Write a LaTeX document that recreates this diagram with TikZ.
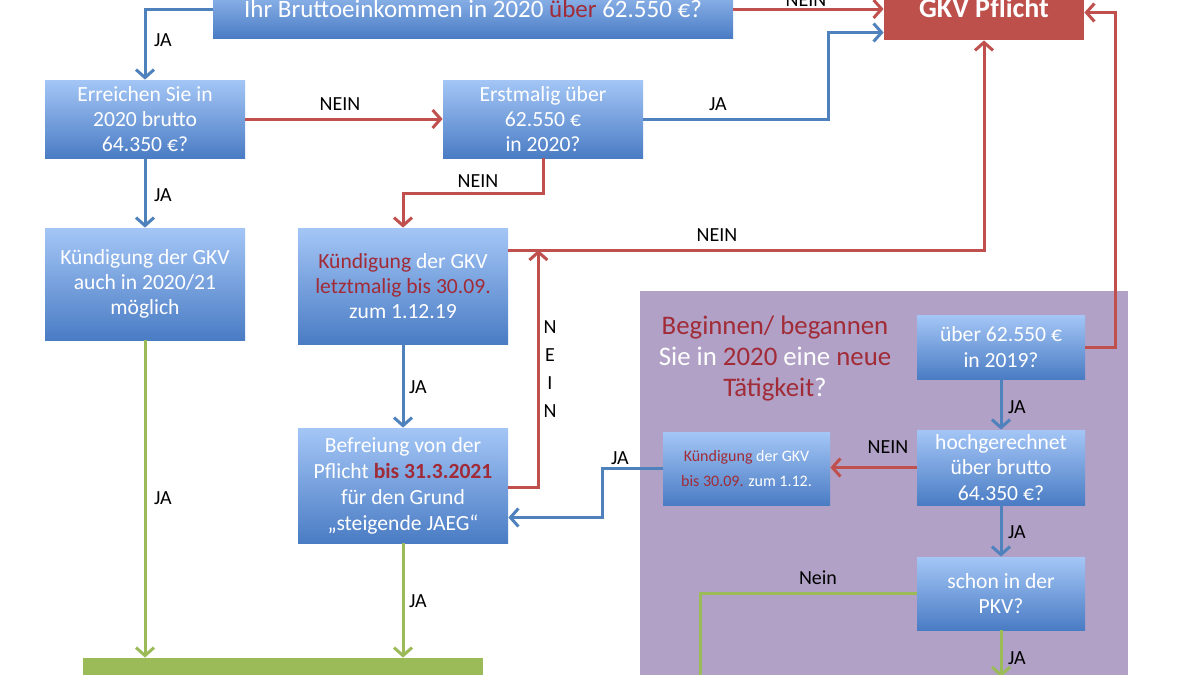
\documentclass[tikz,border=0pt]{standalone}
\usepackage{fontspec}
\setmainfont{Carlito}
\usetikzlibrary{arrows.meta,calc}
\definecolor{bl1}{HTML}{A4C6F6}
\definecolor{bl2}{HTML}{4A7CC4}
\definecolor{barrow}{HTML}{4F81BD}
\definecolor{rarrow}{HTML}{C0504D}
\definecolor{garrow}{HTML}{9BBB59}
\definecolor{gkvred}{HTML}{BE504C}
\definecolor{dred}{HTML}{A12B36}
\definecolor{purp}{HTML}{B1A1C6}
\definecolor{gbox}{HTML}{9BBB59}
\begin{document}
\begin{tikzpicture}[x=0.5pt,y=-0.5pt,
  qbox/.style={shape=rectangle, inner sep=0pt, top color=bl1, bottom color=bl2, text=white, align=center, font=\fontsize{10.8}{12.6}\selectfont},
  tipstyle/.style={-{Straight Barb[length=4pt,width=9pt]}},
  barr/.style={line width=1.5pt, draw=barrow, tipstyle},
  rarr/.style={line width=1.5pt, draw=rarrow, tipstyle},
  garr/.style={line width=1.5pt, draw=garrow, tipstyle},
  gline/.style={line width=1.5pt, draw=garrow},
  lab/.style={inner sep=0pt, text=black, font=\fontsize{10}{12}\selectfont},
]
\useasboundingbox (0,0) rectangle (1200,675);
\fill[white] (0,0) rectangle (1200,675);
\fill[purp] (640,291) rectangle (1128,700);

% nodes
\node[qbox, minimum width=260pt, minimum height=29pt, font=\fontsize{12.5}{15}\selectfont] (top) at (473,9) {Ihr Bruttoeinkommen in 2020 \textcolor{dred}{über} 62.550 €?};
\node[shape=rectangle, inner sep=0pt, fill=gkvred, text=white, minimum width=100pt, minimum height=32.5pt, font=\bfseries\fontsize{14}{16}\selectfont] (gkv) at (984,7.5) {GKV Pflicht};
\node[qbox, minimum width=100pt, minimum height=39pt] (err) at (145,119) {Erreichen Sie in\\2020 brutto\\64.350 €?};
\node[qbox, minimum width=100pt, minimum height=39pt] (erst) at (543,119) {Erstmalig über\\62.550 €\\in 2020?};
\node[qbox, minimum width=100pt, minimum height=56pt] (kl) at (145,284) {Kündigung der GKV\\auch in 2020/21\\möglich};
\node[qbox, minimum width=105pt, minimum height=58pt] (km) at (403,286) {\textcolor{dred}{Kündigung} der GKV\\\textcolor{dred}{letztmalig bis 30.09.}\\zum 1.12.19};
\node[qbox, minimum width=105pt, minimum height=57.5pt, font=\fontsize{10.8}{13}\selectfont] (bef) at (403,485.5) {Befreiung von der\\Pflicht \textcolor{dred}{\bfseries bis 31.3.2021}\\für den Grund\\„steigende JAEG“};
\node[shape=rectangle, inner sep=0pt, fill=gbox, minimum width=200pt, minimum height=21pt] (gr) at (283,679) {};
\node[inner sep=0pt, align=center, text=white, font=\fontsize{13.4}{15.5}\selectfont] (beg) at (775,358) {\textcolor{dred}{Beginnen/ begannen}\\Sie in \textcolor{dred}{2020} eine \textcolor{dred}{neue}\\\textcolor{dred}{Tätigkeit}?};
\node[qbox, minimum width=84pt, minimum height=32pt] (u19) at (1001,347) {über 62.550 €\\in 2019?};
\node[qbox, minimum width=84pt, minimum height=37.5pt] (hoch) at (1001,467.5) {hochgerechnet\\über brutto\\64.350 €?};
\node[qbox, minimum width=83.5pt, minimum height=36.5pt, font=\fontsize{8}{12.5}\selectfont] (kr) at (746.5,468.5) {\textcolor{dred}{Kündigung} der GKV\\\textcolor{dred}{bis 30.09.} zum 1.12.};
\node[qbox, minimum width=84pt, minimum height=36.5pt] (pkv) at (1001,593.5) {schon in der\\PKV?};

% connectors
\draw[barr] (top.west) -| (err.north);
\draw[rarr] (top.east) -- (top.east -| gkv.west);
\draw[rarr] (err.east) -- (erst.west);
\draw[barr] (erst.east) -- ++(185,0) |- ($(gkv.west)+(0,25)$);
\draw[barr] (err.south) -- (kl.north);
\draw[rarr] (erst.south) -- ++(0,35) -| (km.north);
\draw[rarr] ($(km.east)+(0,-36)$) -| (gkv.south);
\draw[barr] (km.south) -- (bef.north);
\coordinate (nj) at ($(km.east)+(30,-36)$);
\draw[rarr] ($(bef.east)+(0,2)$) -| (nj);
\draw[barr] (kr.west) -- ++(-60,0) |- ($(bef.east)+(0,32)$);
\draw[garr] (kl.south) -- (kl.south |- gr.north);
\draw[garr] (bef.south) -- (bef.south |- gr.north);
\draw[rarr] (u19.east) -- ++(30,0) |- ($(gkv.east)+(0,5)$);
\draw[barr] (u19.south) -- (hoch.north);
\draw[rarr] (hoch.west) -- (hoch.west -| kr.east);
\draw[barr] (hoch.south) -- (pkv.north);
\coordinate (nb) at (700,690);
\draw[gline] (pkv.west) -| (nb);
\coordinate (jb) at (1001,677);
\draw[garr] (pkv.south) -- (jb);

% labels
\node[lab] (l1) at (163,40) {JA};
\node[lab] (l2) at (340,104) {NEIN};
\node[lab] (l3) at (718,104) {JA};
\node[lab] (l4) at (806,0) {NEIN};
\node[lab] (l5) at (478,181) {NEIN};
\node[lab] (l6) at (163,195) {JA};
\node[lab] (l7) at (717,235) {NEIN};
\node[lab] (l8) at (418,387) {JA};
\node[lab, align=center, font=\fontsize{10}{14}\selectfont] (l9) at (550,369) {N\\E\\I\\N};
\node[lab] (l10) at (620,458) {JA};
\node[lab] (l11) at (163,498) {JA};
\node[lab] (l12) at (418,601) {JA};
\node[lab] (l13) at (1017,407) {JA};
\node[lab] (l14) at (888,447) {NEIN};
\node[lab] (l15) at (1017,532) {JA};
\node[lab] (l16) at (818,578) {Nein};
\node[lab] (l17) at (1017,658) {JA};
\end{tikzpicture}
\end{document}
